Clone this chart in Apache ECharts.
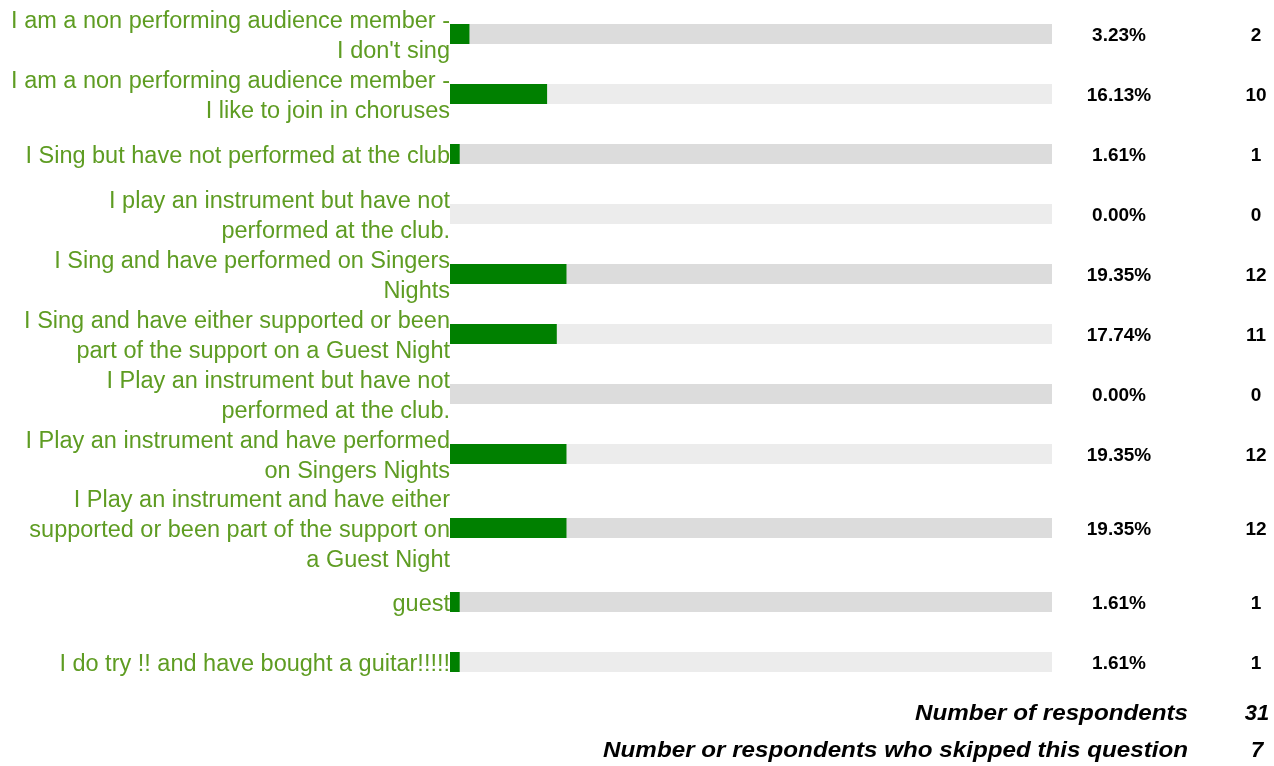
<!DOCTYPE html>
<html><head><meta charset="utf-8">
<script src="https://cdn.jsdelivr.net/npm/echarts@6/dist/echarts.min.js"></script>
<style>html,body{margin:0;padding:0;background:#fff}#c{width:1274px;height:766px}</style>
</head><body><div id="c"></div>
<script>
const categories = [
  "I am a non performing audience member -\nI don't sing",
  "I am a non performing audience member -\nI like to join in choruses",
  "I Sing but have not performed at the club",
  "I play an instrument but have not\nperformed at the club.",
  "I Sing and have performed on Singers\nNights",
  "I Sing and have either supported or been\npart of the support on a Guest Night",
  "I Play an instrument but have not\nperformed at the club.",
  "I Play an instrument and have performed\non Singers Nights",
  "I Play an instrument and have either\nsupported or been part of the support on\na Guest Night",
  "guest",
  "I do try !! and have bought a guitar!!!!!"
];
const percentValues = [3.23, 16.13, 1.61, 0.00, 19.35, 17.74, 0.00, 19.35, 19.35, 1.61, 1.61];
const responseCounts = [2, 10, 1, 0, 12, 11, 0, 12, 12, 1, 1];
const scaleMax = 100;
const footerLabels = ["Number of respondents", "Number or respondents who skipped this question"];
const footerValues = [31, 7];

// layout / style (not data)
const trackShades = ['#dcdcdc','#ececec','#dcdcdc','#ececec','#dcdcdc','#ececec','#dcdcdc','#ececec','#dcdcdc','#dcdcdc','#ececec'];
const groups = [
  {start: 0, end: 8, top: 4, height: 480},
  {start: 8, end: 9, top: 491, height: 74},
  {start: 9, end: 11, top: 572, height: 120}
];
const LABEL_SHIFT = 3;
const FONT = '"Liberation Sans", Arial, sans-serif';
const GREEN_TEXT = '#5e9c22';

const chart = echarts.init(document.getElementById('c'), null, {renderer: 'canvas'});
const grid = [], xAxis = [], yAxis = [], series = [];
groups.forEach((g, gi) => {
  const cats = categories.slice(g.start, g.end);
  // bar grid
  const bi = grid.length;
  grid.push({left: 450, right: 222, top: g.top, height: g.height, containLabel: false});
  xAxis.push({type: 'value', gridIndex: bi, min: 0, max: scaleMax, show: false});
  yAxis.push({
    type: 'category', gridIndex: bi, inverse: true, data: cats,
    axisLine: {show: false}, axisTick: {show: false}, splitLine: {show: false}, axisLabel: {show: false}
  });
  // label grid (category labels, nudged a few px down like the original)
  const li = grid.length;
  grid.push({left: 450, right: 222, top: g.top + LABEL_SHIFT, height: g.height, containLabel: false});
  xAxis.push({type: 'value', gridIndex: li, min: 0, max: scaleMax, show: false});
  yAxis.push({
    type: 'category', gridIndex: li, inverse: true, data: cats,
    axisLine: {show: false}, axisTick: {show: false}, splitLine: {show: false},
    axisLabel: {interval: 0, hideOverlap: false, color: GREEN_TEXT, fontSize: 23.5, lineHeight: 30, fontFamily: FONT, margin: 0, align: 'right'}
  });
  series.push({
    type: 'bar', xAxisIndex: bi, yAxisIndex: bi, barWidth: 20, silent: true, z: 1,
    data: cats.map((c, i) => ({
      value: scaleMax,
      itemStyle: {color: trackShades[g.start + i]}
    })),
    label: {
      show: true, position: 'right', distance: 0, offset: [0, 2],
      formatter: p => '{p|' + percentValues[g.start + p.dataIndex].toFixed(2) + '%}{c|' + responseCounts[g.start + p.dataIndex] + '}',
      rich: {
        p: {width: 134, align: 'center', fontWeight: 'bold', fontSize: 19, color: '#000', fontFamily: FONT},
        c: {width: 140, align: 'center', fontWeight: 'bold', fontSize: 19, color: '#000', fontFamily: FONT}
      }
    }
  });
  series.push({
    type: 'bar', xAxisIndex: bi, yAxisIndex: bi, barWidth: 20, barGap: '-100%', silent: true, z: 2,
    itemStyle: {color: '#008000'},
    data: percentValues.slice(g.start, g.end)
  });
});

const graphic = [];
const footerY = [714, 751];
footerLabels.forEach((t, i) => {
  graphic.push({type: 'text', x: 1188, y: footerY[i], scaleX: 1.1, scaleY: 1,
    style: {text: t, fill: '#000', font: 'italic bold 22px ' + FONT, align: 'right', verticalAlign: 'middle'}});
  graphic.push({type: 'text', x: 1257, y: footerY[i],
    style: {text: String(footerValues[i]), fill: '#000', font: 'italic bold 22px ' + FONT, align: 'center', verticalAlign: 'middle'}});
});

chart.setOption({animation: false, grid, xAxis, yAxis, series, graphic});
</script></body></html>
